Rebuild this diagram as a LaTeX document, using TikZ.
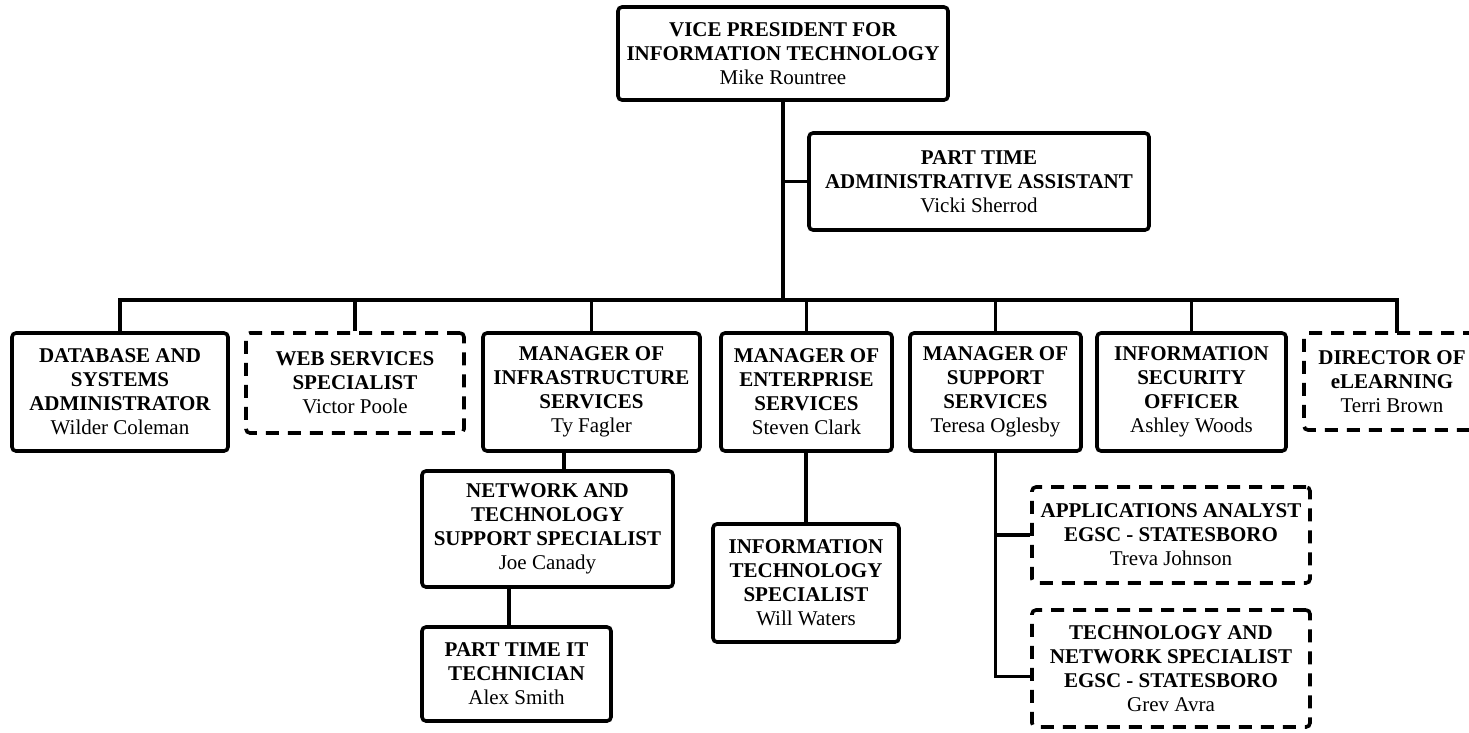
\documentclass[tikz,border=0pt]{standalone}
\usepackage{fontspec}
\setmainfont{Liberation Serif}
\tikzset{
  post/.style={draw, line width=3.6pt, rounded corners=4pt, align=center,
               inner sep=0pt, font=\fontsize{21pt}{24pt}\selectfont},
  vacant/.style={post, dash pattern=on 13pt off 9pt},
  link/.style={line width=3.2pt},
}
\begin{document}
\begin{tikzpicture}[x=1pt, y=-1pt]
      \useasboundingbox (0,0) rectangle (1469,732);
      %
      \node[post, minimum width=330, minimum height=93] (vp) at (783,53.5)
        {\textbf{VICE PRESIDENT FOR}\\\textbf{INFORMATION TECHNOLOGY}\\Mike Rountree};
      \node[post, minimum width=340, minimum height=97] (admin) at (979,181.5)
        {\textbf{PART TIME}\\\textbf{ADMINISTRATIVE ASSISTANT}\\Vicki Sherrod};
      %
      \node[post, minimum width=216, minimum height=118] (db) at (120,392)     % first row
        {\textbf{DATABASE AND}\\\textbf{SYSTEMS}\\\textbf{ADMINISTRATOR}\\Wilder Coleman};
      \node[vacant, minimum width=218, minimum height=100] (web) at (355,383)
        {\textbf{WEB SERVICES}\\\textbf{SPECIALIST}\\Victor Poole};
      \node[post, minimum width=217, minimum height=118] (infra) at (591.5,392)
        {\textbf{MANAGER OF}\\\textbf{INFRASTRUCTURE}\\\textbf{SERVICES}\\Ty Fagler};
      \node[post, minimum width=171, minimum height=118] (ent) at (806.5,392)
        {\textbf{MANAGER OF}\\\textbf{ENTERPRISE}\\\textbf{SERVICES}\\Steven Clark};
      \node[post, minimum width=171, minimum height=118] (sup) at (995.5,392)
        {\textbf{MANAGER OF}\\\textbf{SUPPORT}\\\textbf{SERVICES}\\Teresa Oglesby};
      \node[post, minimum width=189, minimum height=118] (sec) at (1191.5,392)
        {\textbf{INFORMATION}\\\textbf{SECURITY}\\\textbf{OFFICER}\\Ashley Woods};
      \node[vacant, minimum width=176, minimum height=97] (elearn) at (1392,381.5)
        {\textbf{DIRECTOR OF}\\\textbf{eLEARNING}\\Terri Brown};
      %
      \node[post, minimum width=251, minimum height=116] (net) at (547.5,529)  % under infrastructure
        {\textbf{NETWORK AND}\\\textbf{TECHNOLOGY}\\\textbf{SUPPORT SPECIALIST}\\Joe Canady};
      \node[post, minimum width=189, minimum height=94] (pttech) at (516.5,674)
        {\textbf{PART TIME IT}\\\textbf{TECHNICIAN}\\Alex Smith};
      \node[post, minimum width=186, minimum height=118] (itspec) at (806,583) % under enterprise
        {\textbf{INFORMATION}\\\textbf{TECHNOLOGY}\\\textbf{SPECIALIST}\\Will Waters};
      \node[vacant, minimum width=278, minimum height=96] (apps) at (1171,535) % under support
        {\textbf{APPLICATIONS ANALYST}\\\textbf{EGSC - STATESBORO}\\Treva Johnson};
      \node[vacant, minimum width=278, minimum height=117] (tns) at (1171,668.5)
        {\textbf{TECHNOLOGY AND}\\\textbf{NETWORK SPECIALIST}\\\textbf{EGSC - STATESBORO}\\Grev Avra};
      %
      \coordinate (bus) at (781,300);
      \coordinate (netin) at (564,471);
      \coordinate (ptin) at (509,627);
      \coordinate (elin) at (1397,333);
      %
      \draw[link] (vp.south) -- (vp.south |- bus);                    % trunk
      \draw[link] (vp.south |- admin.west) -- (admin.west);
      \draw[link] (db.north) |- (bus) -| (elin);                      % bus
      \foreach \n in {web,infra,ent,sup,sec}
        \draw[link] (\n.north) -- (\n.north |- bus);
      %
      \draw[link] (netin) -- (netin |- infra.south);
      \draw[link] (ptin) -- (ptin |- net.south);
      \draw[link] (itspec.north) -- (itspec.north |- ent.south);
      \draw[link] (sup.south) |- (apps.west);
      \draw[link] (sup.south) |- ([yshift=-8pt]tns.west);
      %
    \end{tikzpicture}
\end{document}
